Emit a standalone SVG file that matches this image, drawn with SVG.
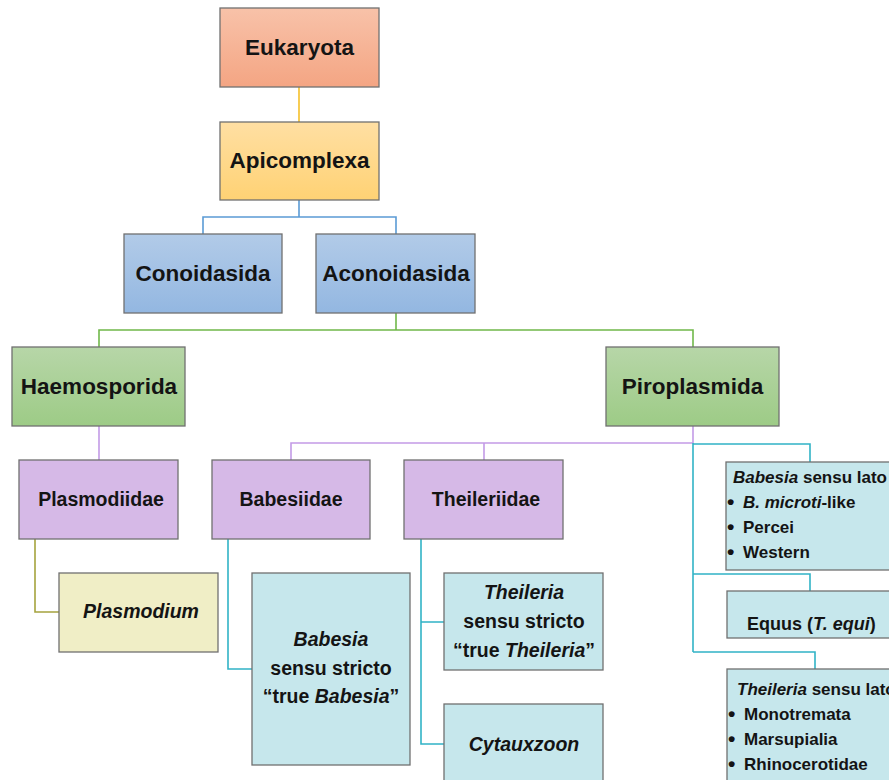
<svg xmlns="http://www.w3.org/2000/svg" width="889" height="780" viewBox="0 0 889 780">
<style>
text{font-family:"Liberation Sans",Arial,sans-serif;font-weight:bold;fill:#141414}
.big{font-size:22.5px;text-anchor:middle}
.mid{font-size:19.5px;text-anchor:middle}
.sm{font-size:17px}
.bul{font-size:21px}
.box{stroke:#707070;stroke-width:1.3}
.c{fill:none;stroke-width:1.6}
.it{font-style:italic}
</style>
<defs>
<linearGradient id="gE" x1="0" y1="0" x2="0" y2="1"><stop offset="0" stop-color="#F8C2A9"/><stop offset="1" stop-color="#F4A583"/></linearGradient>
<linearGradient id="gA" x1="0" y1="0" x2="0" y2="1"><stop offset="0" stop-color="#FFDFA3"/><stop offset="1" stop-color="#FFD274"/></linearGradient>
<linearGradient id="gB" x1="0" y1="0" x2="0" y2="1"><stop offset="0" stop-color="#B2CBE8"/><stop offset="1" stop-color="#93B7E1"/></linearGradient>
<linearGradient id="gG" x1="0" y1="0" x2="0" y2="1"><stop offset="0" stop-color="#B7D6A8"/><stop offset="1" stop-color="#9DCB86"/></linearGradient>
</defs>
<g id="connectors">
<path class="c" stroke="#F5C02A" d="M299 87V122"/>
<path class="c" stroke="#5B9BD5" d="M299 200V217M203 234V217H396V234"/>
<path class="c" stroke="#70B84A" d="M396 313V330M99 347V330H693V347"/>
<path class="c" stroke="#C39BE6" d="M99 426V460M693 426V443H291V460M484 443V460"/>
<path class="c" stroke="#A5A33E" d="M35 539V612H59"/>
<path class="c" stroke="#31B3C6" d="M228 539V669H252"/>
<path class="c" stroke="#31B3C6" d="M421 539V744H444M421 622H444"/>
<path class="c" stroke="#31B3C6" d="M693 443V652M693 444H810V462M693 574H810V591M693 652H815V669"/>
</g>
<g id="n-eukaryota"><rect class="box" x="220" y="8" width="159" height="79" fill="url(#gE)"/><text class="big" x="299.5" y="55">Eukaryota</text></g>
<g id="n-apicomplexa"><rect class="box" x="220" y="122" width="159" height="78" fill="url(#gA)"/><text class="big" x="299.5" y="168">Apicomplexa</text></g>
<g id="n-conoidasida"><rect class="box" x="124" y="234" width="158" height="79" fill="url(#gB)"/><text class="big" x="203" y="281">Conoidasida</text></g>
<g id="n-aconoidasida"><rect class="box" x="316" y="234" width="159" height="79" fill="url(#gB)"/><text class="big" x="396" y="281">Aconoidasida</text></g>
<g id="n-haemosporida"><rect class="box" x="12" y="347" width="173" height="79" fill="url(#gG)"/><text class="big" x="99" y="394">Haemosporida</text></g>
<g id="n-piroplasmida"><rect class="box" x="606" y="347" width="173" height="79" fill="url(#gG)"/><text class="big" x="692.5" y="394">Piroplasmida</text></g>
<g id="n-plasmodiidae"><rect class="box" x="19" y="460" width="159" height="79" fill="#D6B9E7"/><text class="mid" x="101" y="506">Plasmodiidae</text></g>
<g id="n-babesiidae"><rect class="box" x="212" y="460" width="158" height="79" fill="#D6B9E7"/><text class="mid" x="291" y="506">Babesiidae</text></g>
<g id="n-theileriidae"><rect class="box" x="404" y="460" width="159" height="79" fill="#D6B9E7"/><text class="mid" x="486" y="506">Theileriidae</text></g>
<g id="n-plasmodium"><rect class="box" x="59" y="573" width="159" height="79" fill="#F0EEC6"/><text class="mid it" x="141" y="618">Plasmodium</text></g>
<g id="n-babesia-ss"><rect class="box" x="252" y="573" width="158" height="192" fill="#C6E7EC"/>
<text class="mid it" x="331" y="646">Babesia</text>
<text class="mid" x="331" y="675">sensu stricto</text>
<text class="mid" x="331" y="703">“true <tspan class="it">Babesia</tspan>”</text></g>
<g id="n-theileria-ss"><rect class="box" x="444" y="573" width="159" height="97" fill="#C6E7EC"/>
<text class="mid it" x="524" y="599">Theileria</text>
<text class="mid" x="524" y="628">sensu stricto</text>
<text class="mid" x="524" y="657">“true <tspan class="it">Theileria</tspan>”</text></g>
<g id="n-cytauxzoon"><rect class="box" x="444" y="704" width="159" height="90" fill="#C6E7EC"/><text class="mid it" x="524" y="751">Cytauxzoon</text></g>
<g id="n-babesia-sl"><rect class="box" x="726" y="462" width="180" height="108" fill="#C6E7EC"/>
<text class="sm" x="733" y="483"><tspan class="it">Babesia</tspan> sensu lato</text>
<text class="sm" x="727" y="509"><tspan class="bul">•</tspan><tspan x="743" y="508" class="it">B. microti</tspan>-like</text>
<text class="sm" x="727" y="534"><tspan class="bul">•</tspan><tspan x="743" y="533">Percei</tspan></text>
<text class="sm" x="727" y="559"><tspan class="bul">•</tspan><tspan x="743" y="558">Western</tspan></text></g>
<g id="n-equus"><rect class="box" x="727" y="591" width="180" height="47" fill="#C6E7EC"/>
<text x="747" y="630" font-size="18px">Equus (<tspan class="it">T. equi</tspan>)</text></g>
<g id="n-theileria-sl"><rect class="box" x="727" y="669" width="180" height="130" fill="#C6E7EC"/>
<text class="sm" x="737" y="695"><tspan class="it">Theileria</tspan> sensu lato</text>
<text class="sm" x="728" y="721"><tspan class="bul">•</tspan><tspan x="744" y="720">Monotremata</tspan></text>
<text class="sm" x="728" y="746"><tspan class="bul">•</tspan><tspan x="744" y="745">Marsupialia</tspan></text>
<text class="sm" x="728" y="771"><tspan class="bul">•</tspan><tspan x="744" y="770">Rhinocerotidae</tspan></text></g>
</svg>
